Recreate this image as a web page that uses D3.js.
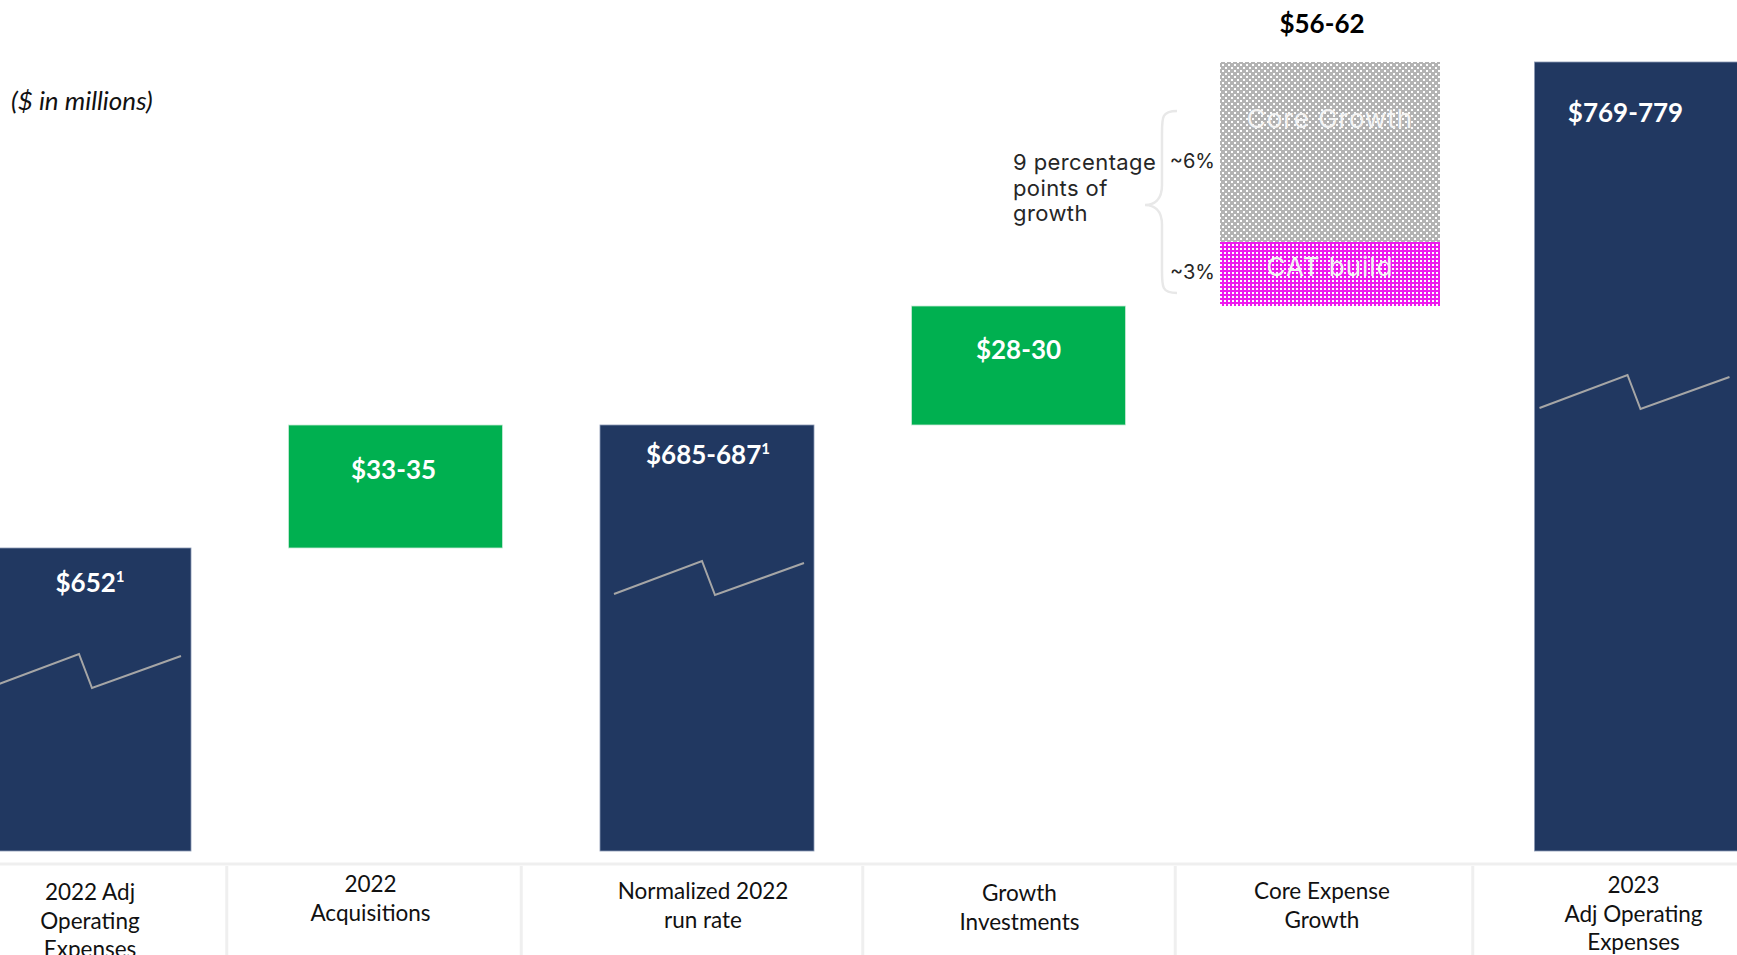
<!DOCTYPE html>
<html>
<head>
<meta charset="utf-8">
<script src="https://cdn.jsdelivr.net/npm/d3@7"></script>
<style>
html,body{margin:0;padding:0;background:#fff;overflow:hidden}
svg{display:block}
</style>
</head>
<body>
<svg id="chart" width="1737" height="955"></svg>
<script>
// ---------------- DATA ----------------
const categories = ["2022 Adj Operating Expenses", "2022 Acquisitions", "Normalized 2022 run rate", "Growth Investments", "Core Expense Growth", "2023 Adj Operating Expenses"];
const categoryLines = [["2022 Adj", "Operating", "Expenses"], ["2022", "Acquisitions"], ["Normalized 2022", "run rate"], ["Growth", "Investments"], ["Core Expense", "Growth"], ["2023", "Adj Operating", "Expenses"]];
const barKind = ["total", "increase", "total", "increase", "increase", "total"];
const rangeLow = [652, 33, 685, 28, 56, 769];
const rangeHigh = [652, 35, 687, 30, 62, 779];
const valueLabels = ["$652", "$33-35", "$685-687", "$28-30", "$56-62", "$769-779"];
const footnoteMarks = ["1", "", "1", "", "", ""];
const coreSegmentNames = ["CAT build", "Core Growth"];
const coreSegmentValues = [15.5, 43.5];
const coreSegmentPct = ["~3%", "~6%"];
const unitNote = "($ in millions)";
const braceNote = ["9 percentage", "points of", "growth"];

// ---------------- LAYOUT ----------------
const W = 1737, H = 955;
const COLORS = { total: "#213861", increase: "#00b050", zig: "#a6a6a6", grid: "#efefef" };
const SANS = "Lato, 'Source Sans Pro', 'Noto Sans', sans-serif";
const GEO = "Inter, 'Open Sans', sans-serif";

const mids = rangeLow.map((v, i) => (v + rangeHigh[i]) / 2);
let run = 0;
const bars = mids.map((m, i) => {
  let y0, y1;
  if (barKind[i] === "total") { y0 = 0; y1 = m; run = m; }
  else { y0 = run; y1 = run + m; run += m; }
  return { cat: categories[i], kind: barKind[i], y0, y1, i };
});

// broken (non-zero-based) value axis: piecewise linear through the running totals
const yAnchors = [0].concat(bars.map(b => b.y1))
  .filter((v, k, a) => a.indexOf(v) === k).sort((a, b) => a - b);
const y = d3.scaleLinear().domain(yAnchors).range([851, 548, 425, 306, 62]);

const x = d3.scaleBand().domain(categories).range([-23, 1748.5]).paddingInner(0.313).paddingOuter(0);
const bw = x.bandwidth();
const cx = c => x(c) + bw / 2;

const labelDx = [6, -2, 1, 0, -8, -16];
const labelDy = [44, 54, 39, 53, -29, 60];
const catDx = [6, -25, -4, 1, -8, -8];
const catY0 = [900, 892, 899, 901, 899, 893];
const sepDx = [-13, -30, 0, 1, -13];
const breakRise = { 0: 164, 2: 257, 5: 443 };
const breakDx = { 0: 0, 2: 0, 5: -9 };
const zigX = [-93, -5, 8, 97], zigY = [0, -33, 1, -31];

const svg = d3.select("#chart");

// patterns
const defs = svg.append("defs");
const pg = defs.append("pattern").attr("id", "dotsGray").attr("patternUnits", "userSpaceOnUse")
  .attr("width", 6).attr("height", 6);
pg.append("rect").attr("width", 6).attr("height", 6).attr("fill", "#b3b3b3");
pg.append("rect").attr("x", 1).attr("y", 1).attr("width", 2).attr("height", 2).attr("fill", "#fff");
pg.append("rect").attr("x", 4).attr("y", 4).attr("width", 2).attr("height", 2).attr("fill", "#fff");
const pm = defs.append("pattern").attr("id", "dotsMagenta").attr("patternUnits", "userSpaceOnUse")
  .attr("width", 4).attr("height", 4);
pm.append("rect").attr("width", 4).attr("height", 4).attr("fill", "#ee1aee");
pm.append("rect").attr("x", 0).attr("y", 0).attr("width", 2).attr("height", 2).attr("fill", "#fff");

// ---------------- BARS ----------------
const g = svg.append("g");
g.selectAll("rect.bar").data(bars.filter(b => b.i !== 4)).join("rect")
  .attr("class", "bar")
  .attr("x", d => x(d.cat)).attr("width", bw)
  .attr("y", d => y(d.y1)).attr("height", d => y(d.y0) - y(d.y1))
  .attr("fill", d => COLORS[d.kind])
  .attr("stroke", d => d.kind === "total" ? "#8a98b3" : "#c9ead6")
  .attr("stroke-width", 0.8);

// stacked core expense bar
const core = bars[4];
let acc = core.y0;
const segs = coreSegmentValues.map((v, k) => { const s = { name: coreSegmentNames[k], pct: coreSegmentPct[k], y0: acc, y1: acc + v, k }; acc += v; return s; });
const coreX = x(core.cat);
g.selectAll("rect.seg").data(segs).join("rect")
  .attr("class", "seg")
  .attr("x", coreX - 3).attr("width", bw + 6)
  .attr("y", d => y(d.y1)).attr("height", d => y(d.y0) - y(d.y1))
  .attr("fill", d => d.k === 0 ? "url(#dotsMagenta)" : "url(#dotsGray)");
const segLabelDy = [34, 66];
g.selectAll("text.seg").data(segs).join("text")
  .attr("x", cx(core.cat)).attr("y", d => y(d.y1) + segLabelDy[d.k])
  .attr("text-anchor", "middle").attr("font-family", GEO).attr("font-size", 26)
  .attr("letter-spacing", 1).attr("fill", "#f4f4f4").text(d => d.name);
const pctDy = [37.5, 106];
g.selectAll("text.pct").data(segs).join("text")
  .attr("x", coreX - 8).attr("y", d => y(d.y1) + pctDy[d.k])
  .attr("text-anchor", "end").attr("font-family", GEO).attr("font-size", 20)
  .attr("fill", "#262626").text(d => d.pct);

// brace
const bx = coreX - 3;
const bTop = 111, bBot = 293, bTip = 205;
const R = bx - 43, S = bx - 58, T = bx - 75;
g.append("path")
  .attr("d", `M${R},${bTop} C${S},${bTop} ${S},${bTop + 6} ${S},${bTop + 22} L${S},${bTip - 20} C${S},${bTip - 5} ${S - 8},${bTip} ${T},${bTip} C${S - 8},${bTip} ${S},${bTip + 5} ${S},${bTip + 20} L${S},${bBot - 22} C${S},${bBot - 6} ${S},${bBot} ${R},${bBot}`)
  .attr("fill", "none").attr("stroke", "#e8e8e8").attr("stroke-width", 2.5);
g.selectAll("text.brace").data(braceNote).join("text")
  .attr("x", 1013).attr("y", (d, k) => 170 + k * 25.5)
  .attr("font-family", GEO).attr("font-size", 22).attr("letter-spacing", 0.4)
  .attr("fill", "#262626").text(d => d);

// axis break zigzags
const line = d3.line();
g.selectAll("path.zig").data(bars.filter(b => b.kind === "total")).join("path")
  .attr("d", d => {
    const c = cx(d.cat) + breakDx[d.i], yb = y(d.y0) - breakRise[d.i];
    return line(zigX.map((dx, k) => [c + dx, yb + zigY[k]]));
  })
  .attr("fill", "none").attr("stroke", COLORS.zig).attr("stroke-width", 2);

// value labels
const vl = g.selectAll("text.val").data(bars).join("text")
  .attr("x", d => cx(d.cat) + labelDx[d.i]).attr("y", d => y(d.y1) + labelDy[d.i])
  .attr("text-anchor", "middle").attr("font-family", SANS).attr("font-weight", 700)
  .attr("font-size", 26).attr("fill", d => d.i === 4 ? "#000" : "#fff");
vl.append("tspan").text(d => valueLabels[d.i]);
vl.filter(d => footnoteMarks[d.i]).append("tspan")
  .attr("font-size", 15).attr("dy", -10).text(d => footnoteMarks[d.i]);

// ---------------- CATEGORY AXIS ----------------
svg.append("line").attr("x1", 0).attr("x2", W).attr("y1", 864).attr("y2", 864)
  .attr("stroke", COLORS.grid).attr("stroke-width", 3);
const step = x.step();
svg.selectAll("line.sep").data(categories.slice(0, -1)).join("line")
  .attr("x1", (c, k) => x(c) + bw + (step - bw) / 2 + sepDx[k])
  .attr("x2", (c, k) => x(c) + bw + (step - bw) / 2 + sepDx[k])
  .attr("y1", 866).attr("y2", H).attr("stroke", COLORS.grid).attr("stroke-width", 3);
const ct = svg.selectAll("text.cat").data(categories).join("text")
  .attr("text-anchor", "middle").attr("font-family", SANS).attr("font-size", 22.5).attr("fill", "#111");
ct.selectAll("tspan").data((c, i) => categoryLines[i].map(t => ({ t, i }))).join("tspan")
  .attr("x", d => cx(categories[d.i]) + catDx[d.i])
  .attr("y", (d, k) => catY0[d.i] + k * 28.5).text(d => d.t);

// unit note
svg.append("text").attr("x", 11).attr("y", 110).attr("font-family", SANS).attr("font-style", "italic")
  .attr("font-size", 26).attr("fill", "#111").text(unitNote);
</script>
</body>
</html>
